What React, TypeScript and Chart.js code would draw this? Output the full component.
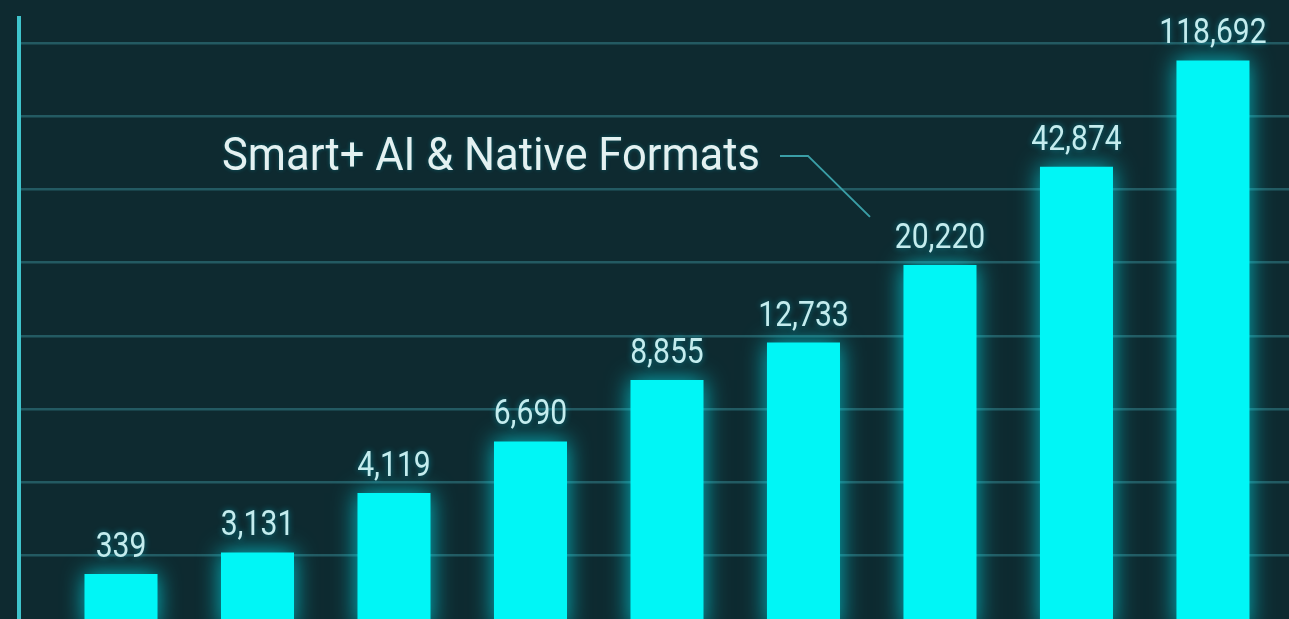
import React, { useEffect, useRef } from "react";
import { Chart, registerables } from "chart.js";

Chart.register(...registerables);

// Bar order (left to right)
const barIndex = [1, 2, 3, 4, 5, 6, 7, 8, 9];
// Values printed above the bars
const values = [339, 3131, 4119, 6690, 8855, 12733, 20220, 42874, 118692];
// Bar heights as drawn in the reference (in gridline units; the picture is not to scale)
const barHeights = [0.75, 1.045, 1.855, 2.56, 3.4, 3.91, 4.97, 6.31, 7.76];
// Callout
const annotationText = "Smart+ AI & Native Formats";
const annotationBar = 6;

const BG = "#0e2a30";

function drawScaledText(ctx: any, text: string, x: number, y: number, sx: number, align: string) {
  ctx.save();
  ctx.translate(x, y);
  ctx.scale(sx, 1);
  ctx.textAlign = align;
  ctx.fillText(text, 0, 0);
  ctx.restore();
}

const bgPlugin = {
  id: "bg",
  beforeDraw(chart: any) {
    const ctx = chart.ctx;
    ctx.save();
    ctx.fillStyle = BG;
    ctx.fillRect(0, 0, chart.width, chart.height);
    ctx.restore();
  },
};

const glowPlugin = {
  id: "glow",
  beforeDatasetsDraw(chart: any) {
    const ctx = chart.ctx;
    ctx.save();
    ctx.shadowColor = "rgba(0,245,255,0.7)";
    ctx.shadowBlur = 22;
  },
  afterDatasetsDraw(chart: any) {
    chart.ctx.restore();
  },
};

const labelPlugin = {
  id: "labels",
  afterDraw(chart: any) {
    const ctx = chart.ctx;
    const meta = chart.getDatasetMeta(0);
    ctx.save();
    ctx.textBaseline = "alphabetic";
    ctx.font = '35px "Roboto", sans-serif';
    ctx.fillStyle = "#c4ecee";
    ctx.shadowColor = "rgba(0,230,255,0.45)";
    ctx.shadowBlur = 6;
    meta.data.forEach((bar: any, i: number) => {
      drawScaledText(ctx, values[i].toLocaleString("en-US"), bar.x, bar.y - 17, 0.86, "center");
    });

    // callout
    const b = meta.data[annotationBar];
    ctx.shadowBlur = 0;
    ctx.strokeStyle = "#3a9ea6";
    ctx.lineWidth = 2;
    ctx.beginPath();
    ctx.moveTo(b.x - 160, b.y - 109);
    ctx.lineTo(b.x - 132, b.y - 109);
    ctx.lineTo(b.x - 70, b.y - 48);
    ctx.stroke();

    ctx.font = '46px "Roboto", sans-serif';
    ctx.fillStyle = "#e4f1f1";
    ctx.shadowColor = "rgba(0,230,255,0.25)";
    ctx.shadowBlur = 4;
    drawScaledText(ctx, annotationText, b.x - 180, b.y - 95, 0.946, "right");
    ctx.restore();
  },
};

export default function App() {
  const ref = useRef<HTMLCanvasElement | null>(null);

  useEffect(() => {
    document.body.style.margin = "0";
    document.body.style.overflow = "hidden";
    document.body.style.background = BG;
    const canvas = ref.current;
    if (!canvas) return;
    const chart = new Chart(canvas, {
      type: "bar",
      data: {
        datasets: [
          {
            data: barIndex.map((x, i) => ({ x, y: barHeights[i] })),
            backgroundColor: "#00f6f6",
            borderWidth: 0,
            barPercentage: 0.535,
            categoryPercentage: 1,
          },
        ],
      },
      options: {
        responsive: false,
        animation: false,
        events: [],
        layout: { padding: { left: 19, right: 0, top: 18, bottom: 11 } },
        plugins: { legend: { display: false }, tooltip: { enabled: false } },
        scales: {
          x: {
            type: "linear",
            display: false,
            offset: false,
            min: 0.2527,
            max: 9.557,
            ticks: { stepSize: 1, includeBounds: false },
          },
          y: {
            type: "linear",
            min: 0,
            max: 8.34,
            ticks: { display: false, stepSize: 1, includeBounds: false },
            grid: { color: "#235a62", lineWidth: 2.5, drawTicks: false },
            border: { display: true, color: "#3fc4cc", width: 4 },
          },
        },
      },
      plugins: [bgPlugin, glowPlugin, labelPlugin],
    } as any);
    return () => chart.destroy();
  }, []);

  return (
    <div style={{ position: "fixed", left: 0, top: 0, width: 1289, height: 640, background: BG }}>
      <canvas ref={ref} width={1289} height={640} style={{ display: "block" }} />
    </div>
  );
}
